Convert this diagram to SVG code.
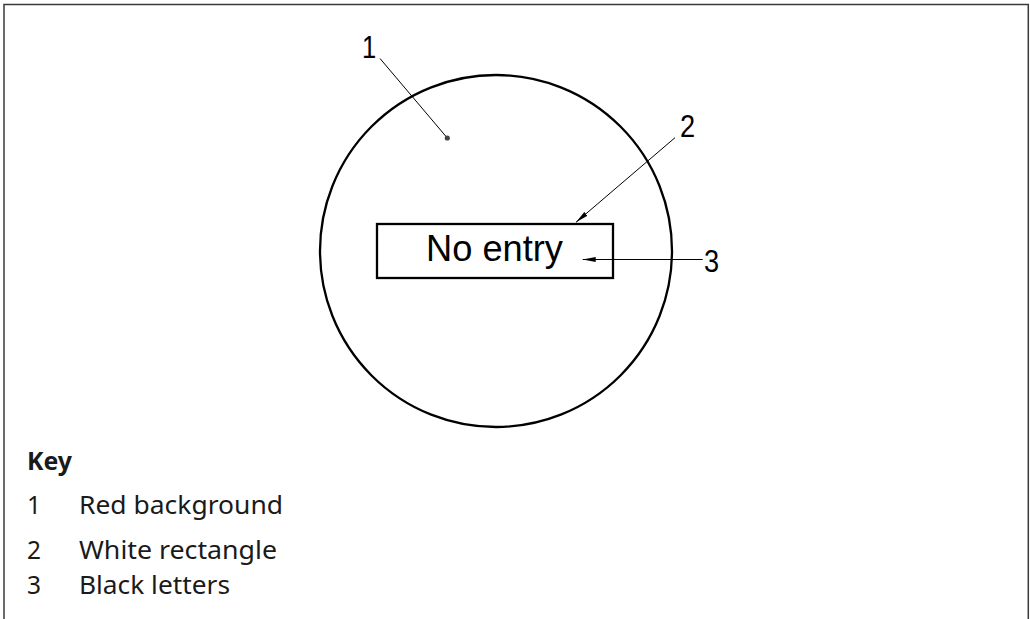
<svg xmlns="http://www.w3.org/2000/svg" width="1030" height="619" viewBox="0 0 1030 619">
<defs>
<style>
.frame{fill:none;stroke:#3a3a3a;stroke-width:1.5}
.shape{fill:none;stroke:#000;stroke-width:2.3}
.lead{fill:none;stroke:#000;stroke-width:1}
.callout{font-family:"Liberation Sans",Arial,sans-serif;font-size:32px;fill:#000}
.sign{font-family:"Liberation Sans",Arial,sans-serif;font-size:37px;fill:#000}
.key{font-family:"Noto Sans","Open Sans",sans-serif;font-size:24.5px;fill:#1a1a1a}
.keyb{font-family:"Noto Sans","Open Sans",sans-serif;font-size:24.5px;font-weight:bold;fill:#1a1a1a}
</style>
<marker id="arr" markerWidth="14" markerHeight="6" refX="13" refY="3" orient="auto" markerUnits="userSpaceOnUse">
<path d="M0,0.6 L13,3 L0,5.4 Z" fill="#000"/>
</marker>
</defs>
<rect width="1030" height="619" fill="#fff"/>
<path class="frame" d="M4,619 V4.5 H1028.3 V619"/>
<g id="sign">
<circle class="shape" cx="496" cy="251" r="176"/>
</g>
<g id="rectangle">
<rect class="shape" x="377" y="224" width="236" height="54" fill="#fff"/>
<text class="sign" x="426" y="261" textLength="137" lengthAdjust="spacingAndGlyphs">No entry</text>
</g>
<g id="connectors">
<line class="lead" x1="380" y1="58.5" x2="447.3" y2="138"/>
<circle cx="447.3" cy="138" r="2.6" fill="#444"/>
<line class="lead" x1="675" y1="137.7" x2="576" y2="222.3" marker-end="url(#arr)"/>
<line class="lead" x1="702.7" y1="259.5" x2="582.7" y2="259.5" marker-end="url(#arr)"/>
</g>
<g id="callout1"><text class="callout" transform="translate(362,58.3) scale(0.8,1)">1</text></g>
<g id="callout2"><text class="callout" transform="translate(680,136.7) scale(0.85,1)">2</text></g>
<g id="callout3"><text class="callout" transform="translate(704,271.7) scale(0.85,1)">3</text></g>
<g id="key">
<text class="keyb" x="27" y="470" textLength="45" lengthAdjust="spacingAndGlyphs">Key</text>
<text class="key" x="27" y="514">1</text>
<text class="key" x="79" y="514" textLength="204" lengthAdjust="spacingAndGlyphs">Red background</text>
<text class="key" x="27" y="558.5">2</text>
<text class="key" x="79" y="558.5" textLength="198" lengthAdjust="spacingAndGlyphs">White rectangle</text>
<text class="key" x="27" y="593.5">3</text>
<text class="key" x="79" y="593.5" textLength="151" lengthAdjust="spacingAndGlyphs">Black letters</text>
</g>
</svg>
